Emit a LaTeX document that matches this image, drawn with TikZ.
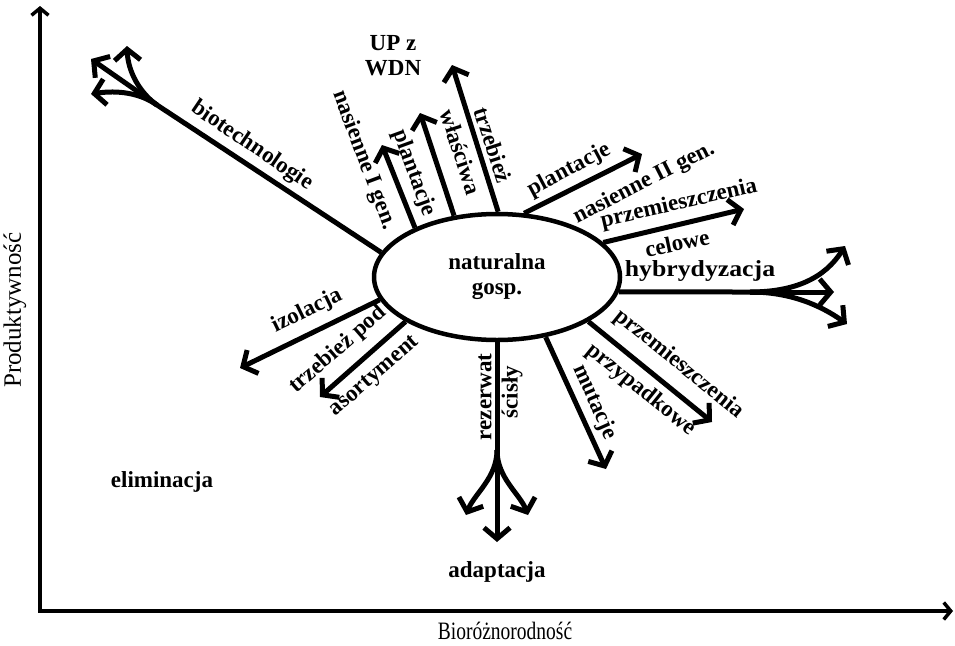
\documentclass[tikz,border=0pt]{standalone}
\usepackage{fontspec}
\setmainfont{Liberation Serif}
\usetikzlibrary{arrows.meta,shapes.geometric}

\tikzset{
  lbl/.style={font=\bfseries\fontsize{23}{25}\selectfont, inner sep=0pt},
  axlbl/.style={font=\fontsize{25}{27}\selectfont, inner sep=0pt},
  branch/.style={line width=5pt, line cap=butt, line join=round},
  arr/.style={branch, -{Straight Barb[length=11pt,width=26pt,line join=miter]}},
  axis/.style={line width=3.5pt, -{Straight Barb[length=7pt,width=17pt]}}
}

\begin{document}
\begin{tikzpicture}[x=1pt,y=-1pt]
  \useasboundingbox (0,0) rectangle (955,645);

  % axes
  \coordinate (O) at (40,611);
  \coordinate (ytop) at (40,6);
  \coordinate (xend) at (953,611);
  \draw[axis] (O) -- (ytop);
  \draw[axis] ([xshift=-1.75pt]O) -- (xend);
  \node[axlbl, rotate=90] (ylab) at (15,310) {Produktywność};
  \node[axlbl, xscale=0.78] (xlab) at (505,631) {Bioróżnorodność};

  % central ellipse
  \node[ellipse, draw, line width=4.5pt, minimum width=246pt, minimum height=126pt,
        inner sep=0pt, align=center, lbl] (nat) at (497,277) {naturalna\\gosp.};

  % biotechnologie: trunk with three branches
  \coordinate (b1) at (157,105);
  \coordinate (b1a) at (91,59);
  \coordinate (b1b) at (127,46);
  \coordinate (b1c) at (91,94);
  \draw[branch] (nat.168.7) -- (b1);
  \draw[arr] (b1) -- (b1a);
  \draw[arr] (b1) .. controls (140,93) and (128,72) .. (b1b);
  \draw[arr] (b1) .. controls (140,93) and (118,90) .. (b1c);
  \node[lbl, rotate=-34] (tbio) at (252,146) {biotechnologie};

  % upper fan
  \coordinate (t2) at (382,145);
  \coordinate (t3) at (420,113);
  \coordinate (t4) at (452,65);
  \draw[arr] (nat.149.7) -- (t2);
  \draw[arr] (nat.125.4) -- (t3);
  \draw[arr] (nat.89) -- (t4);
  \node[lbl, rotate=-69.5] (tnas1) at (364,160) {nasienne I gen.};
  \node[lbl, rotate=-70] (tpl1) at (414,173) {plantacje};
  \node[lbl, rotate=-72] (twl) at (461,152) {właściwa};
  \node[lbl, rotate=-72] (ttrz) at (493,145) {trzebież};
  \node[lbl, align=center] (tup) at (393,56) {UP z\\WDN};

  % right fan
  \coordinate (t5) at (642,154);
  \coordinate (t6) at (744,209);
  \draw[arr] (nat.67) -- (t5);
  \draw[arr] (nat.18.8) -- (t6);
  \node[lbl, rotate=28] (tpl2) at (569,170) {plantacje};
  \node[lbl, rotate=27] (tnas2) at (644,183) {nasienne II gen.};
  \node[lbl, rotate=13] (tprz1) at (679,204) {przemieszczenia};
  \node[lbl, rotate=12] (tcel) at (677,243) {celowe};

  % hybrydyzacja: trunk with three branches
  \coordinate (b7) at (750,292);
  \coordinate (b7a) at (834,292);
  \coordinate (b7b) at (845,246);
  \coordinate (b7c) at (847,324);
  \draw[branch] (nat.-7) -- (b7);
  \draw[arr] (b7) -- (b7a);
  \draw[arr] (b7) .. controls (795,292) and (825,278) .. (b7b);
  \draw[arr] (b7) .. controls (790,292) and (820,305) .. (b7c);
  \node[lbl, xscale=1.12] (thyb) at (700,271) {hybrydyzacja};

  % lower right fan
  \coordinate (t8) at (712,422);
  \coordinate (t9) at (606,469);
  \draw[arr] (nat.-26.8) -- (t8);
  \draw[arr] (nat.-51) -- (t9);
  \node[lbl, rotate=-39] (tprz2) at (679,364) {przemieszczenia};
  \node[lbl, rotate=-39] (tprzyp) at (641,390) {przypadkowe};
  \node[lbl, rotate=-66] (tmut) at (595,402) {mutacje};

  % rezerwat: trunk with three branches
  \coordinate (b10) at (497,450);
  \coordinate (b10a) at (497,542);
  \coordinate (b10b) at (466,515);
  \coordinate (b10c) at (528,515);
  \draw[branch] (nat.-90) -- (b10);
  \draw[arr] (b10) -- (b10a);
  \draw[arr] (b10) .. controls (497,478) and (474,494) .. (b10b);
  \draw[arr] (b10) .. controls (497,478) and (520,494) .. (b10c);
  \node[lbl, rotate=90] (trez) at (485,397) {rezerwat};
  \node[lbl, rotate=90] (tsci) at (512,392) {ścisły};

  % lower left fan
  \coordinate (t11) at (320,397);
  \coordinate (t12) at (240,368);
  \draw[arr] (nat.206.6) -- (t11);
  \draw[arr] (nat.191.3) -- (t12);
  \node[lbl, rotate=41] (ttrzp) at (338,350) {trzebież pod};
  \node[lbl, rotate=41] (taso) at (375,377) {asortyment};
  \node[lbl, rotate=26] (tizo) at (307,311) {izolacja};

  % free labels
  \node[lbl] (telim) at (162,482) {eliminacja};
  \node[lbl] (tadap) at (497,572) {adaptacja};
\end{tikzpicture}
\end{document}
